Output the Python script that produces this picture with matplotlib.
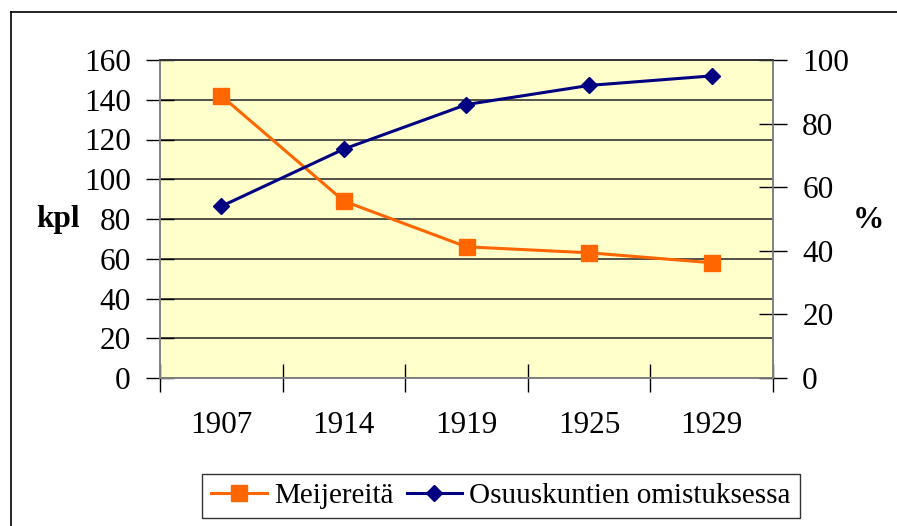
import matplotlib
matplotlib.use("Agg")
import matplotlib.pyplot as plt
from matplotlib.lines import Line2D

years = ["1907", "1914", "1919", "1925", "1929"]
meijereita = [142, 89, 66, 63, 58]
osuus_pct = [54, 72, 86, 92, 95]
left_ticks = [0, 20, 40, 60, 80, 100, 120, 140, 160]
right_ticks = [0, 20, 40, 60, 80, 100]

plt.rcParams['font.family'] = ['Liberation Serif', 'DejaVu Serif']
FS = 22.5
LFS = 21

W, H = 897, 526
fig = plt.figure(figsize=(W / 100, H / 100), dpi=100)
fig.patch.set_facecolor('white')

x0, x1, y0, y1 = 160, 773, 60, 378
ax = fig.add_axes([x0 / W, 1 - y1 / H, (x1 - x0) / W, (y1 - y0) / H])
ax.set_facecolor('#FFFFCC')
ax2 = ax.twinx()

xs = list(range(len(years)))
ax.plot(xs, meijereita, color='#FF6600', lw=2.2, marker='s', ms=12,
        markeredgecolor='#FF6600', label='Meijereitä', zorder=3, clip_on=False)
ax2.plot(xs, osuus_pct, color='#000080', lw=2.2, marker='D', ms=8,
         markeredgecolor='#000080', label='Osuuskuntien omistuksessa', zorder=3, clip_on=False)

ax.set_xlim(-0.5, len(years) - 0.5)
ax.set_ylim(0, 160)
ax2.set_ylim(0, 100)
ax.set_yticks(left_ticks)
ax.set_yticklabels([str(v) for v in left_ticks])
ax2.set_yticks(right_ticks)
ax2.set_yticklabels([str(v) for v in right_ticks])

ax.set_xticks([i - 0.5 for i in range(len(years) + 1)])
ax.set_xticklabels([])
ax.set_xticks(xs, minor=True)
ax.set_xticklabels(years, minor=True)
ax.tick_params(axis='x', which='minor', length=0, pad=24, labelsize=FS)
ax.tick_params(axis='x', which='major', direction='inout', length=20, width=1, color='black')
ax.tick_params(axis='y', direction='inout', length=20, width=1, color='black', pad=11, labelsize=FS)
ax2.tick_params(axis='y', direction='inout', length=20, width=1, color='black', pad=11, labelsize=FS)

ax.yaxis.grid(True, color='#333333', lw=1.2)
ax.set_axisbelow(True)

for a in (ax, ax2):
    for s in ('left', 'bottom', 'right'):
        a.spines[s].set_color('#808080')
        a.spines[s].set_linewidth(1.2)
    a.spines['top'].set_color('#333333')
    a.spines['top'].set_linewidth(1.2)

fig.text(58 / W, 1 - 220 / H, 'kpl', fontsize=FS, fontweight='bold', ha='center', va='center')
fig.text(868 / W, 1 - 220 / H, '%', fontsize=FS, fontweight='bold', ha='center', va='center')

h1, l1 = ax.get_legend_handles_labels()
h2, l2 = ax2.get_legend_handles_labels()
leg = fig.legend(h1 + h2, l1 + l2, loc='center',
                 bbox_to_anchor=((205 + 797) / 2 / W, 1 - 496 / H),
                 ncol=2, fontsize=LFS, frameon=True, fancybox=False,
                 edgecolor='black', handlelength=1.9, columnspacing=0.45,
                 handletextpad=0.25, borderpad=0.3, borderaxespad=0)
leg.get_frame().set_linewidth(1.0)

fig.add_artist(Line2D([11 / W, 11 / W], [0, 1 - 12 / H], color='black', lw=1.2, transform=fig.transFigure))
fig.add_artist(Line2D([11 / W, 1], [1 - 12 / H, 1 - 12 / H], color='black', lw=1.2, transform=fig.transFigure))

fig.savefig('out.png', dpi=100)
